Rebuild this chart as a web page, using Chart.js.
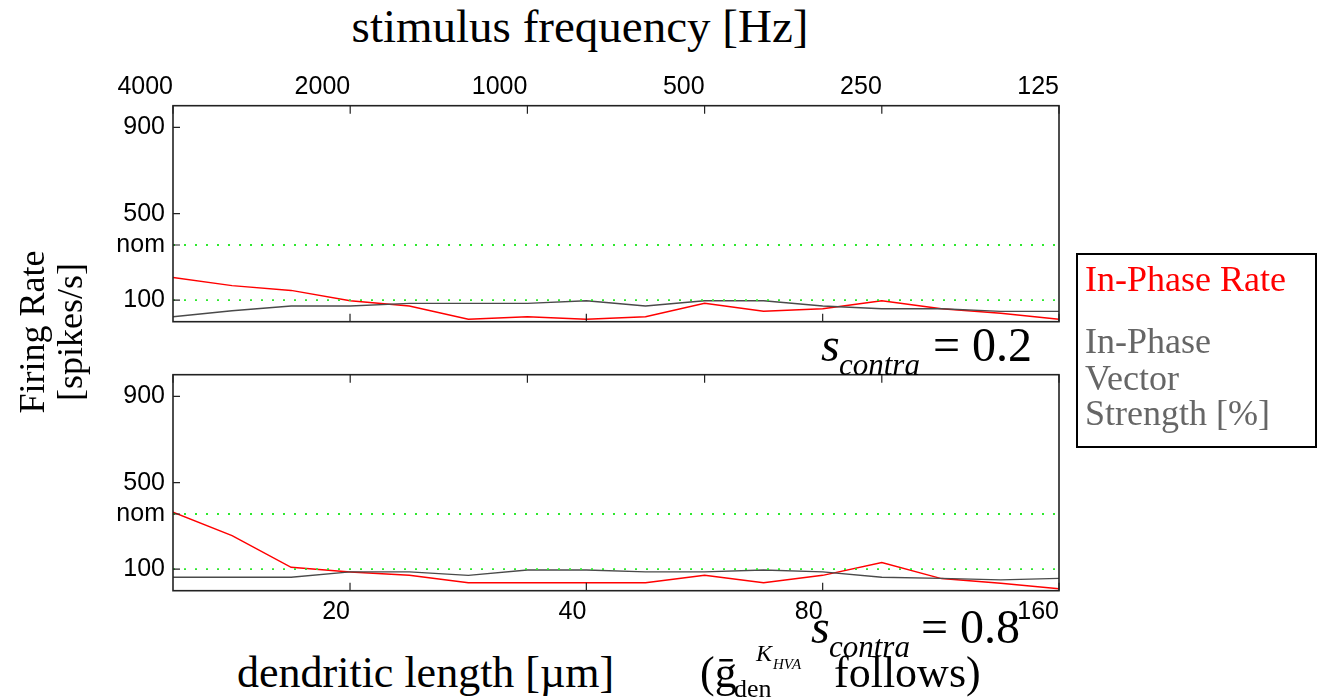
<!DOCTYPE html>
<html>
<head>
<meta charset="utf-8">
<script src="https://cdn.jsdelivr.net/npm/chart.js@4.4.1/dist/chart.umd.min.js"></script>
<style>
  body { margin: 0; background: #fff; width: 1317px; height: 699px; overflow: hidden; position: relative; font-family: "Liberation Serif", "Times New Roman", serif; }
  .wrap { position: absolute; left: 0; width: 1100px; height: 290px; }
  .t { position: absolute; white-space: nowrap; line-height: 1; }
  .it { font-style: italic; }
</style>
</head>
<body>
<div class="wrap" style="top:60px"><canvas id="lowChart" width="1100" height="290"></canvas></div>
<div class="wrap" style="top:340px"><canvas id="highChart" width="1100" height="290"></canvas></div>

<div class="t" style="left:580px;top:3px;font-size:47px;transform:translateX(-50%)">stimulus frequency [Hz]</div>

<div style="position:absolute;left:-100px;top:295px;width:300px;height:74px;transform:rotate(-90deg);text-align:center;font-size:36px;line-height:38px">Firing Rate<br>[spikes/s]</div>

<!-- s_contra labels -->
<div class="t it" style="left:821px;top:321px;font-size:48px">s</div>
<div class="t it" style="left:839px;top:349px;font-size:31px">contra</div>
<div class="t" style="left:933px;top:321px;font-size:48px">= 0.2</div>

<div class="t it" style="left:811px;top:603px;font-size:48px">s</div>
<div class="t it" style="left:829px;top:631px;font-size:31px">contra</div>
<div class="t" style="left:921px;top:603px;font-size:48px">= 0.8</div>

<!-- bottom axis title -->
<div class="t" style="left:237px;top:651px;font-size:44px">dendritic length [µm]</div>
<div class="t" style="left:700px;top:651px;font-size:44px">(ḡ</div>
<div class="t" style="left:734px;top:676px;font-size:26px">den</div>
<div class="t it" style="left:756px;top:641px;font-size:24px">K</div>
<div class="t it" style="left:773px;top:657px;font-size:15px">HVA</div>
<div class="t" style="left:834px;top:651px;font-size:44px">follows)</div>

<!-- legend -->
<div style="position:absolute;left:1076px;top:253px;width:241px;height:195px;border:2px solid #000;box-sizing:border-box"></div>
<div class="t" style="left:1085px;top:261px;font-size:36px;color:#f00">In-Phase Rate</div>
<div class="t" style="left:1085px;top:323px;font-size:36px;color:#666">In-Phase</div>
<div class="t" style="left:1085px;top:360px;font-size:36px;color:#666">Vector</div>
<div class="t" style="left:1085px;top:395px;font-size:36px;color:#666">Strength [%]</div>

<script>
// stimulus frequency of each run (1/3 octave steps), shared by both panels
const freqs = [4000, 3175, 2520, 2000, 1587, 1260, 1000, 794, 630, 500, 397, 315, 250, 198, 157, 125];

// s_contra = 0.2
const rateLow = [205, 167, 145, 97, 73, 11, 23, 11, 23, 85, 48, 60, 97, 60, 39, 11];
const vsLow   = [23, 51, 73, 73, 85, 85, 85, 97, 73, 97, 97, 73, 60, 60, 48, 48];

// s_contra = 0.8
const rateHigh = [364, 255, 108, 87, 71, 37, 37, 37, 37, 71, 37, 71, 131, 56, 34, 9];
const vsHigh   = [62, 62, 62, 87, 87, 71, 96, 96, 87, 87, 96, 87, 62, 57, 50, 57];

const freqTicks = [4000, 2000, 1000, 500, 250, 125];
const lengthTicks = [20, 40, 80, 160];
const lengthRange = [11.9, 160];
const rateRange = [0, 1000];
const rateTicks = [100, 355, 500, 900];
const rateTickLabels = ['100', 'nom', '500', '900'];
const refLevels = [100, 355];

const tickFont = { family: 'Liberation Sans', size: 25 };

// box around plot area + short inward tick marks
const framePlugin = {
    id: 'frame',
    afterDatasetsDraw(chart) {
        const { ctx, chartArea: a, scales } = chart;
        ctx.save();
        ctx.strokeStyle = '#222';
        ctx.lineWidth = 1.6;
        ctx.strokeRect(a.left, a.top, a.right - a.left, a.bottom - a.top);
        ctx.lineWidth = 1.2;
        ctx.beginPath();
        freqTicks.forEach(v => {
            const x = scales.freq.getPixelForValue(v);
            ctx.moveTo(x, a.top); ctx.lineTo(x, a.top + 8);
        });
        lengthTicks.forEach(v => {
            const x = scales.len.getPixelForValue(v);
            ctx.moveTo(x, a.bottom); ctx.lineTo(x, a.bottom - 8);
        });
        rateTicks.forEach(v => {
            const y = scales.y.getPixelForValue(v);
            ctx.moveTo(a.left, y); ctx.lineTo(a.left + 7, y);
        });
        ctx.stroke();
        ctx.restore();
    }
};

function makePanel(id, rates, strengths, opts) {
    const pts = arr => freqs.map((f, i) => ({ x: f, y: arr[i] }));
    const refSets = refLevels.map(lvl => ({
        data: [{ x: freqs[0], y: lvl }, { x: freqs[freqs.length - 1], y: lvl }],
        borderColor: '#2ee82e',
        borderWidth: 1.8,
        borderDash: [2, 9],
        pointRadius: 0,
        xAxisID: 'freq'
    }));

    return new Chart(document.getElementById(id), {
        type: 'line',
        data: {
            datasets: [
                ...refSets,
                { data: pts(strengths), borderColor: '#4a4a4a', borderWidth: 1.4, pointRadius: 0, xAxisID: 'freq' },
                { data: pts(rates), borderColor: '#ff0000', borderWidth: 1.5, pointRadius: 0, xAxisID: 'freq' }
            ]
        },
        options: {
            responsive: false,
            animation: false,
            layout: { padding: { left: 0, right: 41, top: 0, bottom: 0 } },
            plugins: { legend: { display: false }, tooltip: { enabled: false } },
            scales: {
                freq: {
                    type: 'logarithmic',
                    position: 'top',
                    reverse: true,
                    min: freqs[freqs.length - 1],
                    max: freqs[0],
                    afterBuildTicks: s => { s.ticks = freqTicks.map(v => ({ value: v })); },
                    afterFit: s => { s.height = opts.topH; },
                    ticks: {
                        display: opts.freqLabels,
                        callback: v => String(v),
                        align: 'end', maxRotation: 0, autoSkip: false,
                        font: tickFont, color: '#000', padding: 4
                    },
                    grid: { display: false, drawTicks: false },
                    border: { display: false }
                },
                len: {
                    type: 'logarithmic',
                    position: 'bottom',
                    min: lengthRange[0],
                    max: lengthRange[1],
                    afterBuildTicks: s => { s.ticks = lengthTicks.map(v => ({ value: v })); },
                    afterFit: s => { s.height = opts.bottomH; },
                    ticks: {
                        display: opts.lengthLabels,
                        callback: v => String(v),
                        align: 'end', maxRotation: 0, autoSkip: false,
                        font: tickFont, color: '#000', padding: 6
                    },
                    grid: { display: false, drawTicks: false },
                    border: { display: false }
                },
                y: {
                    type: 'linear',
                    min: rateRange[0],
                    max: rateRange[1],
                    afterBuildTicks: s => { s.ticks = rateTicks.map(v => ({ value: v })); },
                    afterFit: s => { s.width = 173; },
                    ticks: {
                        callback: (v, i) => rateTickLabels[i],
                        font: tickFont, color: '#000', padding: 8
                    },
                    grid: { display: false, drawTicks: false },
                    border: { display: false }
                }
            }
        },
        plugins: [framePlugin]
    });
}

makePanel('lowChart', rateLow, vsLow, { topH: 45.7, bottomH: 28.3, freqLabels: true, lengthLabels: false });
makePanel('highChart', rateHigh, vsHigh, { topH: 34.7, bottomH: 39.3, freqLabels: false, lengthLabels: true });
</script>
</body>
</html>
